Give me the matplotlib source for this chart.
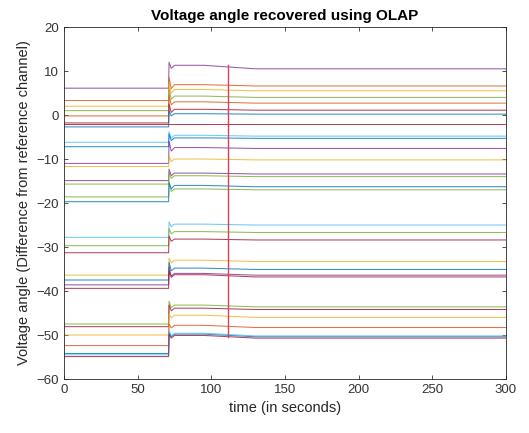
import matplotlib
matplotlib.use("Agg")
import matplotlib.pyplot as plt

plt.rcParams['font.family'] = ['Liberation Sans', 'DejaVu Sans']

# MATLAB default colour order
C = {
    'blue': (0.0, 0.447, 0.741),
    'orange': (0.85, 0.325, 0.098),
    'yellow': (0.929, 0.694, 0.125),
    'purple': (0.494, 0.184, 0.556),
    'green': (0.466, 0.674, 0.188),
    'lblue': (0.301, 0.745, 0.933),
    'dred': (0.635, 0.078, 0.184),
}

# per-channel levels (degrees)
colors = ['purple', 'orange', 'yellow', 'green', 'orange', 'dred', 'blue', 'dred',
          'lblue', 'blue', 'purple', 'yellow', 'purple', 'green', 'green', 'blue',
          'lblue', 'green', 'dred', 'yellow', 'blue', 'purple', 'dred',
          'green', 'dred', 'yellow', 'orange', 'blue', 'lblue', 'dred']
before = [6.1, 3.3, 2.0, 1.0, -0.2, -1.8, -2.7, -2.0,
          -6.2, -7.2, -11.0, -11.7, -14.9, -15.7, -18.6, -19.7,
          -27.8, -29.7, -31.3, -36.4, -37.5, -38.6, -39.4,
          -47.5, -48.1, -50.0, -52.4, -54.2, -54.5, -54.9]
peak = [12.0, 8.5, 7.5, 6.0, 4.5, 2.5, 1.0, -2.0,
        -3.8, -4.3, -6.0, -9.3, -12.3, -13.0, -15.0, -15.5,
        -24.3, -25.8, -27.5, -32.5, -33.5, -34.5, -35.5,
        -42.3, -43.2, -45.3, -47.5, -49.3, -49.0, -49.8]
trough = [10.6, 6.0, 5.0, 3.6, 2.3, 0.6, -0.2, -2.0,
          -5.3, -5.8, -8.2, -10.6, -13.8, -14.4, -17.4, -16.8,
          -25.4, -27.0, -28.7, -33.6, -35.4, -36.6, -36.9,
          -43.8, -44.5, -46.1, -48.4, -50.4, -50.2, -50.7]
after_early = [11.3, 6.9, 5.8, 4.3, 3.0, 1.3, 0.3, -2.0,
               -4.6, -5.2, -7.4, -10.0, -13.2, -13.8, -16.8, -16.0,
               -24.8, -26.5, -28.2, -33.0, -34.8, -36.0, -36.3,
               -43.2, -43.9, -45.5, -47.8, -49.8, -49.6, -50.1]
after_late = [10.5, 6.6, 5.5, 4.0, 2.7, 1.1, 0.2, -2.0,
              -4.8, -5.3, -7.6, -10.2, -13.4, -14.0, -17.0, -16.3,
              -25.0, -26.7, -28.4, -33.3, -35.1, -36.4, -36.8,
              -43.6, -44.2, -46.0, -48.3, -50.4, -50.2, -50.7]

t_step = 71
t_knots = [0, t_step, t_step + 0.3, t_step + 1.8, t_step + 4, 95, 130, 300]

marker_t = 111
marker_lo, marker_hi = -50.5, 11.3

fig = plt.figure(figsize=(5.29, 4.33), dpi=100)
ax = fig.add_axes([0.121, 0.1247, 0.8355, 0.8129])

for c, b, p, tr, e, l in zip(colors, before, peak, trough, after_early, after_late):
    ys = [b, b, p, tr, e, e, l, l]
    ax.plot(t_knots, ys, color=C[c], lw=0.75, alpha=0.8)

ax.plot([marker_t, marker_t], [marker_lo, marker_hi], color=(0.85, 0.25, 0.35), lw=1.0)

ax.set_xlim(0, 300)
ax.set_ylim(-60, 20)
ax.set_xticks([0, 50, 100, 150, 200, 250, 300])
ax.set_yticks([-60, -50, -40, -30, -20, -10, 0, 10, 20])
ax.tick_params(direction='in', top=True, right=True, labelsize=9.5,
               colors=(0.2, 0.2, 0.2), length=3, width=0.6)
for s in ax.spines.values():
    s.set_color((0.15, 0.15, 0.15))
    s.set_linewidth(0.6)

ax.set_title('Voltage angle recovered using OLAP', fontsize=11, fontweight='bold', pad=5)
ax.set_xlabel('time (in seconds)', fontsize=10.5, color=(0.15, 0.15, 0.15))
ax.set_ylabel('Voltage angle (Difference from reference channel)', fontsize=10.5,
              color=(0.15, 0.15, 0.15))

fig.savefig('out.png', dpi=100)
